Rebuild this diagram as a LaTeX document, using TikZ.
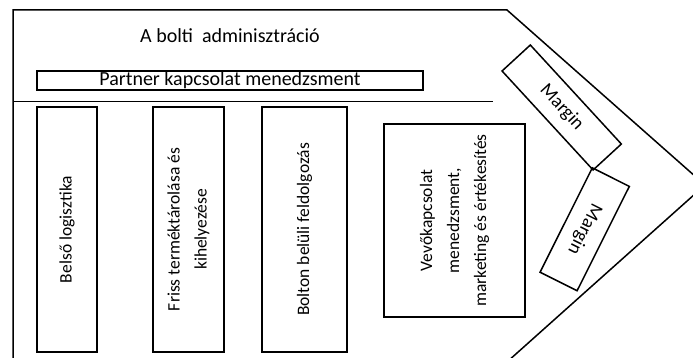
\documentclass[tikz,border=0pt]{standalone}
\usepackage{fontspec}
\setmainfont{Carlito}
\usetikzlibrary{positioning}

\begin{document}
\begin{tikzpicture}[x=1pt,y=-1pt,
		doboz/.style={draw,line width=1.5pt,inner sep=0pt,align=center,font=\fontsize{17.5}{27}\selectfont},
		fugg/.style={doboz,rotate=90,minimum width=245pt},
		margo/.style={doboz,font=\fontsize{19}{23}\selectfont}]
		\useasboundingbox (0,0) rectangle (693,358);
		% keret es elvalaszto vonal
		\draw[line width=1.5pt] (13,370) -- (13,10) -- (507,10) -- (705,185) -- (498,370);
		\draw[line width=1pt] (13,101.5) -- (493,101.5);
		\node[anchor=base,font=\fontsize{20}{24}\selectfont] (admin) at (230,42.7) {A bolti\ \ adminisztráció};
		\node[doboz,minimum width=386pt,minimum height=19pt,font=\fontsize{20}{24}\selectfont] (partner) at (230,80.5) {Partner kapcsolat menedzsment};
		% fuggoleges dobozok
		\foreach \x/\w/\nev/\szoveg in {67/60/belso/{Belső logisztika},188.5/71/friss/{Friss terméktárolása és\\kihelyezése},304.5/85/bolton/{Bolton belüli feldolgozás}}
		\node[fugg,minimum height=\w pt] (\nev) at (\x,229.5) {\szoveg};
		\node[doboz,rotate=90,minimum width=193pt,minimum height=141pt] (vevo) at (454.5,220.5) {Vevőkapcsolat\\menedzsment,\\marketing és értékesítés};
		% margin
		\node[margo,rotate=-47.4,minimum width=134.5pt,minimum height=38.4pt] (margin1) at (561.7,107.5) {Margin};
		\node[margo,rotate=-116.6,minimum width=116.7pt,minimum height=41.4pt] (margin2) at (584.7,229.3) {Margin};
	\end{tikzpicture}
\end{document}
